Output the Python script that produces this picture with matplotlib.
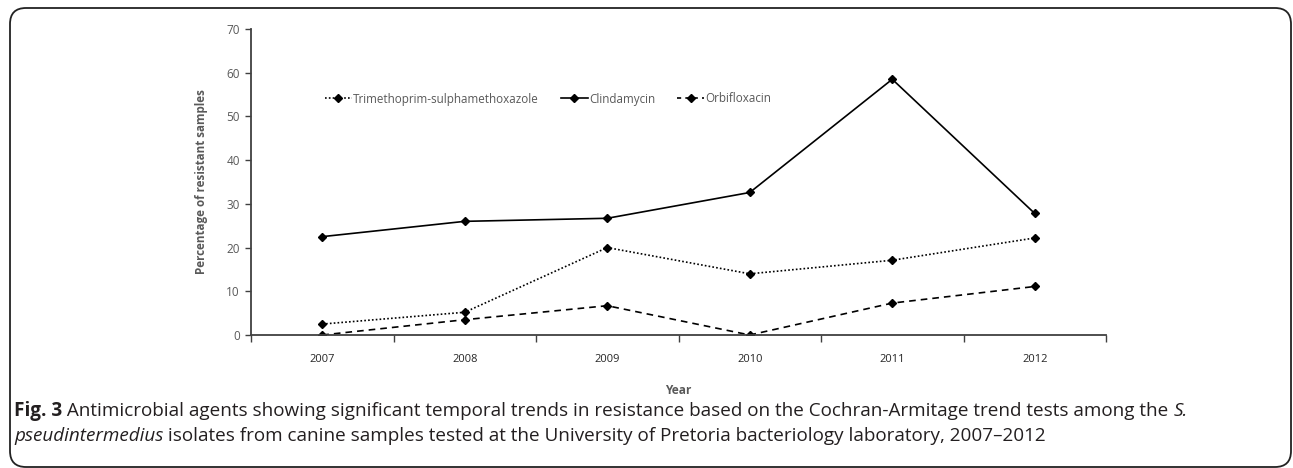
import numpy as np
import matplotlib
matplotlib.use('Agg')
from matplotlib import pyplot as plt
from matplotlib.patches import FancyBboxPatch
from matplotlib.lines import Line2D

years = ['2007', '2008', '2009', '2010', '2011', '2012']
tms = [2.5, 5.2, 20.0, 14.0, 17.1, 22.2]
clinda = [22.5, 26.0, 26.7, 32.6, 58.5, 27.8]
orbi = [0.0, 3.5, 6.7, 0.0, 7.3, 11.1]
series_names = ['Trimethoprim-sulphamethoxazole', 'Clindamycin', 'Orbifloxacin']

W, H = 1293, 468
gray = '#595959'
fig = plt.figure(figsize=(W / 100, H / 100), dpi=100)

# axes box in pixels
x0, x1, ytop, ybot = 251, 1106, 29, 335
ax = fig.add_axes([x0 / W, 1 - ybot / H, (x1 - x0) / W, (ybot - ytop) / H])

x = np.arange(len(years))
dotted = (0, (1, 1.3))
dashed = (0, (4, 3))
mk = dict(marker='D', markersize=3.6, color='black', lw=1.2)
ax.plot(x, tms, linestyle=dotted, **mk)
ax.plot(x, clinda, linestyle='-', **mk)
ax.plot(x, orbi, linestyle=dashed, **mk)

ax.set_xlim(-0.5, len(years) - 0.5)
ax.set_ylim(0, 70)
ax.set_yticks(range(0, 71, 10))
ax.set_xticks(np.arange(-0.5, len(years), 1.0))
ax.set_xticklabels([])
ax.set_xticks(x, minor=True)
ax.set_xticklabels(years, minor=True)
ax.tick_params(axis='x', which='minor', length=0, pad=14, labelsize=8, labelcolor='#262626')
ax.tick_params(axis='x', which='major', length=5, width=1, color='#404040')
ax.tick_params(axis='y', length=4, width=1, color='#404040', labelsize=8.5, labelcolor=gray, pad=4)
for lab in ax.get_xticklabels(minor=True) + ax.get_yticklabels():
    lab.set_family('Open Sans')

for s in ['top', 'right']:
    ax.spines[s].set_visible(False)
for s in ['left', 'bottom']:
    ax.spines[s].set_color('#404040')
    ax.spines[s].set_linewidth(1.3)

ax.set_ylabel('Percentage of resistant samples', fontsize=8.4, fontweight='bold', color=gray,
              family='Open Sans', labelpad=13)
fig.text((x0 + x1) / 2 / W, 1 - 391 / H, 'Year', ha='center', va='center', fontsize=8.6,
         fontweight='bold', color=gray, family='Open Sans')

# legend drawn as line samples plus labels, placed like the original
handles = [Line2D([], [], linestyle=dotted, **mk),
           Line2D([], [], linestyle='-', **mk),
           Line2D([], [], linestyle=(0, (2.5, 2.5)), **mk)]
leg = ax.legend(handles, series_names, ncol=3, frameon=False, loc='center',
                bbox_to_anchor=((548 - x0) / (x1 - x0), (ybot - 99) / (ybot - ytop)),
                handlelength=2.3, handletextpad=0.1, columnspacing=1.9,
                prop={'family': 'Open Sans', 'size': 8.4})
for t in leg.get_texts():
    t.set_color(gray)

# rounded frame, in inches (1 in = 100 px)
frame = FancyBboxPatch((0.10, 0.01), 12.81, 4.59,
                       boxstyle='round,pad=0,rounding_size=0.16', transform=fig.dpi_scale_trans,
                       fill=False, ec='#222222', lw=1.3)
fig.add_artist(frame)

# caption with mixed bold / italic runs
fig.canvas.draw()
renderer = fig.canvas.get_renderer()
cap_size = 13.6


def runs(parts, xpix, ypix):
    xp = xpix
    for txt, style in parts:
        t = fig.text(xp / W, 1 - ypix / H, txt, ha='left', va='center', fontsize=cap_size,
                     family='Open Sans', color='#231f20',
                     fontweight='bold' if style == 'b' else 'normal',
                     style='italic' if style == 'i' else 'normal')
        bb = t.get_window_extent(renderer)
        xp += bb.width


runs([('Fig. 3', 'b'),
      (' Antimicrobial agents showing significant temporal trends in resistance based on the '
       'Cochran-Armitage trend tests among the ', 'n'), ('S.', 'i')], 14, 411)
runs([('pseudintermedius', 'i'),
      (' isolates from canine samples tested at the University of Pretoria bacteriology '
       'laboratory, 2007\u20132012', 'n')], 14, 436)

fig.savefig('out.png', dpi=100)
